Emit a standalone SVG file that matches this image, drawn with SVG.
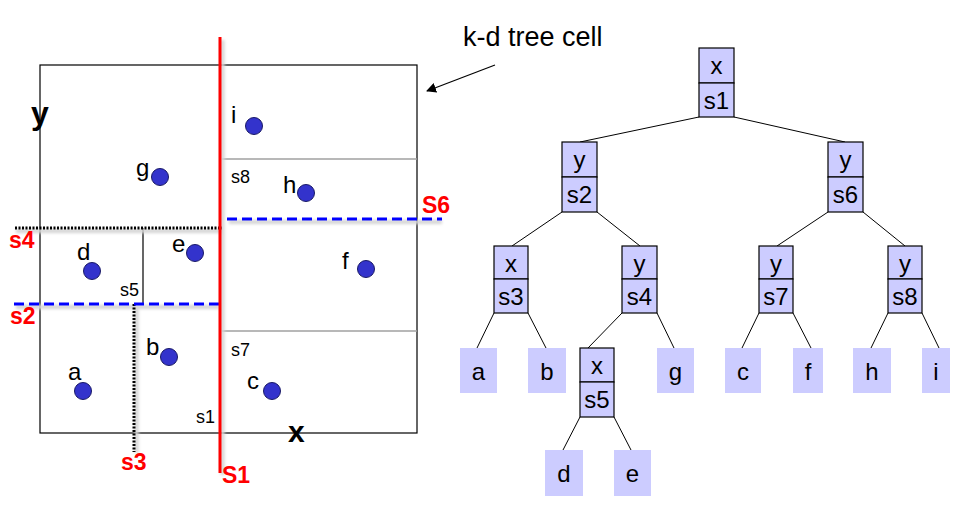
<svg xmlns="http://www.w3.org/2000/svg" width="962" height="526" viewBox="0 0 962 526">
<defs>
<style>
.t{font-family:"Liberation Sans",Arial,sans-serif;fill:#000}
.pl{font-size:24px}
.sm{font-size:18px}
.red{font-family:"Liberation Sans",Arial,sans-serif;font-weight:bold;font-size:23px;fill:#ff0000}
.ax{font-family:"Liberation Sans",Arial,sans-serif;font-weight:bold;fill:#000}
.pt{fill:#3333cc;stroke:#1a1a66;stroke-width:1}
.box{fill:#ccccff;stroke:#000;stroke-width:1.2}
.leaf{fill:#ccccff;stroke:none}
.nt{font-family:"Liberation Sans",Arial,sans-serif;font-size:24px;fill:#000;text-anchor:middle}
.edge{stroke:#000;stroke-width:1;fill:none}
.shadow{stroke:#d4d4d4;stroke-width:4;fill:none}
</style>
<filter id="blur" x="-20%" y="-20%" width="140%" height="140%">
<feGaussianBlur stdDeviation="1.5"/>
</filter>
<marker id="arr" viewBox="0 0 10 10" refX="9" refY="5" markerWidth="10" markerHeight="10" markerUnits="userSpaceOnUse" orient="auto">
<path d="M0,0 L10,5 L0,10 z" fill="#000"/>
</marker>
</defs>
<rect width="962" height="526" fill="#fff"/>

<g id="space">
<rect x="40" y="65" width="377" height="368" fill="none" stroke="#000" stroke-width="1.2"/>
<line x1="222" y1="159" x2="417" y2="159" stroke="#a0a0a0" stroke-width="1.5"/>
<line x1="222" y1="331" x2="417" y2="331" stroke="#a0a0a0" stroke-width="1.5"/>
<line x1="143" y1="228" x2="143" y2="304" stroke="#000" stroke-width="1.2"/>
<!-- shadows -->
<g filter="url(#blur)">
<line class="shadow" x1="16" y1="231" x2="222" y2="231"/>
<line class="shadow" x1="16" y1="307" x2="219" y2="307"/>
<line class="shadow" x1="229" y1="222" x2="442" y2="222"/>
<line class="shadow" x1="222.5" y1="40" x2="222.5" y2="475"/>
<line class="shadow" x1="136.5" y1="306" x2="136.5" y2="453"/>
</g>
<!-- split lines -->
<line x1="15" y1="228" x2="222" y2="228" stroke="#000" stroke-width="3" stroke-dasharray="2,1.5"/>
<line x1="134" y1="304" x2="134" y2="452" stroke="#000" stroke-width="3" stroke-dasharray="2,1.5"/>
<line x1="14" y1="304" x2="219" y2="304" stroke="#0000ff" stroke-width="3" stroke-dasharray="10,5"/>
<line x1="227" y1="219" x2="442" y2="219" stroke="#0000ff" stroke-width="3" stroke-dasharray="10,5"/>
<line x1="220" y1="37" x2="220" y2="473" stroke="#ff0000" stroke-width="3"/>
<!-- axis labels -->
<text class="ax" x="31" y="124" font-size="32">y</text>
<text class="ax" x="288" y="442" font-size="30">x</text>
<!-- split labels -->
<text class="red" x="9" y="248">s4</text>
<text class="red" x="10" y="324">s2</text>
<text class="red" x="121" y="470">s3</text>
<text class="red" x="222" y="483">S1</text>
<text class="red" x="422" y="213">S6</text>
<text class="t sm" x="231" y="183">s8</text>
<text class="t sm" x="120" y="296">s5</text>
<text class="t sm" x="231" y="356">s7</text>
<text class="t sm" x="196" y="423">s1</text>
<!-- points -->
<circle class="pt" cx="254" cy="126" r="8.5"/><text class="t pl" x="231" y="123">i</text>
<circle class="pt" cx="160" cy="177" r="8.5"/><text class="t pl" x="136" y="176">g</text>
<circle class="pt" cx="306" cy="193" r="8.5"/><text class="t pl" x="283" y="193">h</text>
<circle class="pt" cx="92" cy="271" r="8.5"/><text class="t pl" x="77" y="260">d</text>
<circle class="pt" cx="195" cy="253" r="8.5"/><text class="t pl" x="172" y="252">e</text>
<circle class="pt" cx="366" cy="269" r="8.5"/><text class="t pl" x="342" y="269">f</text>
<circle class="pt" cx="169" cy="357" r="8.5"/><text class="t pl" x="146" y="355">b</text>
<circle class="pt" cx="83" cy="391" r="8.5"/><text class="t pl" x="68" y="380">a</text>
<circle class="pt" cx="272" cy="391" r="8.5"/><text class="t pl" x="247" y="389">c</text>
</g>

<g id="callout">
<text class="t" x="463" y="46" font-size="27">k-d tree cell</text>
<line x1="495" y1="65" x2="427" y2="91" stroke="#000" stroke-width="1.2" marker-end="url(#arr)"/>
</g>

<g id="connectors">
<line class="edge" x1="699" y1="117" x2="580" y2="142"/>
<line class="edge" x1="734" y1="117" x2="845" y2="142"/>
<line class="edge" x1="562" y1="212" x2="512" y2="246"/>
<line class="edge" x1="597" y1="212" x2="640" y2="246"/>
<line class="edge" x1="828" y1="212" x2="777" y2="246"/>
<line class="edge" x1="863" y1="212" x2="905" y2="246"/>
<line class="edge" x1="494" y1="313" x2="477" y2="348"/>
<line class="edge" x1="528" y1="313" x2="546" y2="348"/>
<line class="edge" x1="622" y1="313" x2="588" y2="348"/>
<line class="edge" x1="657" y1="313" x2="674" y2="348"/>
<line class="edge" x1="759" y1="313" x2="742" y2="348"/>
<line class="edge" x1="793" y1="313" x2="811" y2="348"/>
<line class="edge" x1="888" y1="313" x2="871" y2="348"/>
<line class="edge" x1="922" y1="313" x2="939" y2="348"/>
<line class="edge" x1="580" y1="417" x2="563" y2="450"/>
<line class="edge" x1="614" y1="417" x2="631" y2="450"/>
</g>

<g id="n-s1">
<rect class="box" x="699" y="48" width="35" height="35"/><rect class="box" x="699" y="83" width="35" height="34"/>
<text class="nt" x="716.5" y="74">x</text><text class="nt" x="716.5" y="109">s1</text>
</g>
<g id="n-s2">
<rect class="box" x="562" y="142" width="35" height="35"/><rect class="box" x="562" y="177" width="35" height="35"/>
<text class="nt" x="579.5" y="168">y</text><text class="nt" x="579.5" y="203">s2</text>
</g>
<g id="n-s6">
<rect class="box" x="828" y="142" width="35" height="35"/><rect class="box" x="828" y="177" width="35" height="35"/>
<text class="nt" x="845.5" y="168">y</text><text class="nt" x="845.5" y="203">s6</text>
</g>
<g id="n-s3">
<rect class="box" x="494" y="246" width="34" height="33"/><rect class="box" x="494" y="279" width="34" height="34"/>
<text class="nt" x="511" y="272">x</text><text class="nt" x="511" y="305">s3</text>
</g>
<g id="n-s4">
<rect class="box" x="622" y="246" width="35" height="33"/><rect class="box" x="622" y="279" width="35" height="34"/>
<text class="nt" x="639.5" y="272">y</text><text class="nt" x="639.5" y="305">s4</text>
</g>
<g id="n-s7">
<rect class="box" x="759" y="246" width="34" height="33"/><rect class="box" x="759" y="279" width="34" height="34"/>
<text class="nt" x="776" y="272">y</text><text class="nt" x="776" y="305">s7</text>
</g>
<g id="n-s8">
<rect class="box" x="888" y="246" width="34" height="33"/><rect class="box" x="888" y="279" width="34" height="34"/>
<text class="nt" x="905" y="272">y</text><text class="nt" x="905" y="305">s8</text>
</g>
<g id="n-s5">
<rect class="box" x="580" y="348" width="34" height="34"/><rect class="box" x="580" y="382" width="34" height="35"/>
<text class="nt" x="597" y="374">x</text><text class="nt" x="597" y="408">s5</text>
</g>
<g id="leaf-a"><rect class="leaf" x="460" y="348" width="37" height="45"/><text class="nt" x="478.5" y="380">a</text></g>
<g id="leaf-b"><rect class="leaf" x="528" y="348" width="38" height="45"/><text class="nt" x="547" y="380">b</text></g>
<g id="leaf-g"><rect class="leaf" x="657" y="348" width="37" height="45"/><text class="nt" x="675.5" y="380">g</text></g>
<g id="leaf-c"><rect class="leaf" x="725" y="348" width="36" height="45"/><text class="nt" x="743" y="380">c</text></g>
<g id="leaf-f"><rect class="leaf" x="793" y="348" width="30" height="45"/><text class="nt" x="808" y="380">f</text></g>
<g id="leaf-h"><rect class="leaf" x="853" y="348" width="38" height="45"/><text class="nt" x="872" y="380">h</text></g>
<g id="leaf-i"><rect class="leaf" x="922" y="348" width="28" height="45"/><text class="nt" x="936" y="380">i</text></g>
<g id="leaf-d"><rect class="leaf" x="545" y="450" width="38" height="46"/><text class="nt" x="564" y="482">d</text></g>
<g id="leaf-e"><rect class="leaf" x="614" y="450" width="37" height="46"/><text class="nt" x="632.5" y="482">e</text></g>
</svg>
